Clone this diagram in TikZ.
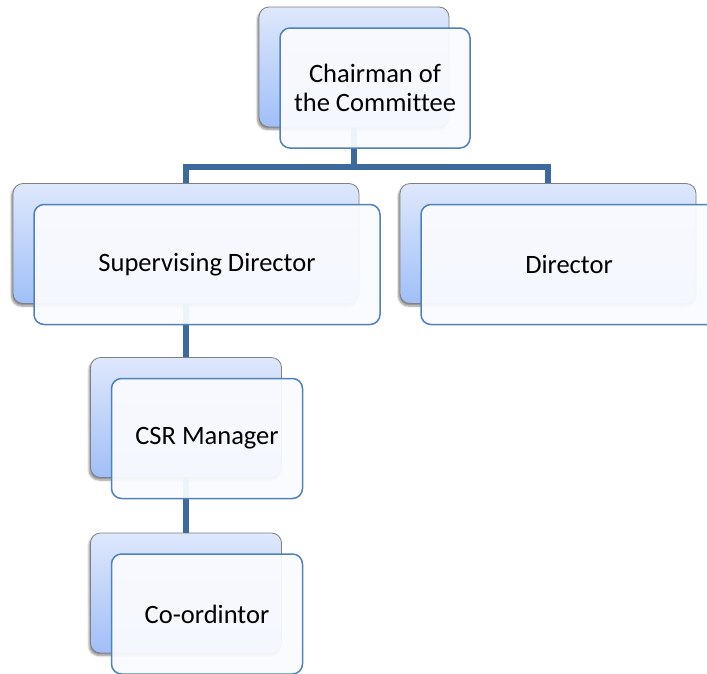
\documentclass[tikz,border=0pt]{standalone}
\usepackage{fontspec}
\setmainfont{Carlito}[Ligatures=NoCommon]
\usepackage{tikz}
\usetikzlibrary{positioning, shadows.blur, calc}

\definecolor{linkBlue}{HTML}{3D6A9E}
\definecolor{frameBlue}{HTML}{4F81BD}
\definecolor{backTop}{HTML}{DEE8FC}
\definecolor{backBottom}{HTML}{A0BFF7}
\definecolor{frontFill}{HTML}{FAFBFF}

\begin{document}
\begin{tikzpicture}[x=1pt, y=-1pt, node distance=21pt, on grid,
    every node/.style={font=\fontsize{26.5}{29}\selectfont},
    backbox/.style={rounded corners=10pt, draw=black!50, line width=0.8pt,
        top color=backTop, bottom color=backBottom, minimum height=120pt, inner sep=0pt,
        blur shadow={shadow xshift=-1.5pt, shadow yshift=-2.5pt, shadow blur steps=6, shadow opacity=45}},
    frontbox/.style={rounded corners=10pt, draw=frameBlue, line width=1.5pt,
        fill=frontFill, fill opacity=0.94, text opacity=1, minimum height=120pt,
        inner sep=0pt, align=center},
    link/.style={draw=linkBlue, line width=5.5pt}]

  \clip (0,0) rectangle (707,673);

  % back cards
  \node[backbox, minimum width=190pt] (chairBack) at (354,67)    {};
  \node[backbox, minimum width=346pt] (superBack) at (186,243.5) {};
  \node[backbox, minimum width=296pt] (dirBack)   at (548,243.5) {};
  \node[backbox, minimum width=191pt] (csrBack)   at (186,417.5) {};
  \node[backbox, minimum width=191pt] (coordBack) at (186,593)   {};

  % connectors
  \coordinate (bar) at ($(chairBack.south)+(0,39.5)$);
  \draw[link] (chairBack.south) -- (bar) -| (superBack.north);
  \draw[link] (bar) -| (dirBack.north);
  \draw[link] (superBack.south) -- (csrBack.north);
  \draw[link] (csrBack.south) -- (coordBack.north);

  % front cards
  \node[frontbox, minimum width=190pt, below right=21pt and 21pt of chairBack] (chair) {Chairman of\\the Committee};
  \node[frontbox, minimum width=346pt, below right=21pt and 21pt of superBack] (super) {Supervising Director};
  \node[frontbox, minimum width=296pt, below right=21pt and 21pt of dirBack]   (dir)   {Director};
  \node[frontbox, minimum width=191pt, below right=21pt and 21pt of csrBack]   (csr)   {CSR Manager};
  \node[frontbox, minimum width=191pt, below right=21pt and 21pt of coordBack] (coord) {Co-ordintor};
\end{tikzpicture}
\end{document}
